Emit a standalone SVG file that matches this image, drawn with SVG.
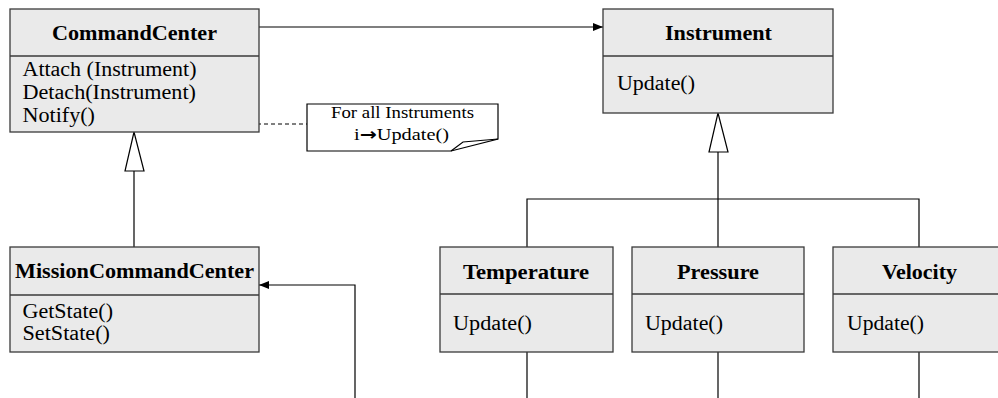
<svg xmlns="http://www.w3.org/2000/svg" width="998" height="398" viewBox="0 0 998 398">
  <style>
    .box { fill: #eaeaea; stroke: #3a3a3a; stroke-width: 1.3; }
    .div { stroke: #3a3a3a; stroke-width: 1.3; fill: none; }
    .title { font-family: "Liberation Serif", "Times New Roman", serif; font-weight: bold; font-size: 20.5px; fill: #000; }
    .op { font-family: "Liberation Serif", "Times New Roman", serif; font-size: 20.5px; fill: #000; }
    .note-text { font-family: "Liberation Serif", "Times New Roman", serif; font-size: 17px; fill: #000; }
    .wire { stroke: #000; stroke-width: 1.2; fill: none; }
    .dash { stroke: #000; stroke-width: 1; fill: none; stroke-dasharray: 4 3; }
    .tri { fill: #fff; stroke: #000; stroke-width: 1.2; }
  </style>
  <defs>
    <marker id="arrow" viewBox="0 0 10 8" refX="10" refY="4" markerWidth="10" markerHeight="8" markerUnits="userSpaceOnUse" orient="auto">
      <path d="M0,0 L10,4 L0,8 Z" fill="#000"/>
    </marker>
  </defs>
  <rect width="998" height="398" fill="#fff"/>

  <!-- connectors -->
  <g id="connectors">
    <line class="wire" x1="259" y1="27" x2="603" y2="27" marker-end="url(#arrow)"/>
    <polyline class="wire" points="355,398 355,285 259,285" marker-end="url(#arrow)"/>
    <line class="dash" x1="124" y1="124" x2="307" y2="124"/>
    <!-- CommandCenter generalization -->
    <line class="wire" x1="134" y1="171" x2="134" y2="247"/>
    <polygon class="tri" points="134,132 125,171 144,171"/>
    <!-- Instrument generalization -->
    <line class="wire" x1="718" y1="152" x2="718" y2="247"/>
    <polyline class="wire" points="527,247 527,199 919,199 919,247"/>
    <polygon class="tri" points="718,113 709,152 728,152"/>
    <!-- lines leaving the subclasses -->
    <line class="wire" x1="527" y1="352" x2="527" y2="398"/>
    <line class="wire" x1="718" y1="352" x2="718" y2="398"/>
    <line class="wire" x1="919" y1="352" x2="919" y2="398"/>
  </g>

  <g id="command-center">
    <rect class="box" x="10" y="9" width="249" height="123"/>
    <line class="div" x1="10" y1="56" x2="259" y2="56"/>
    <text class="title" x="52" y="40" textLength="165" lengthAdjust="spacingAndGlyphs">CommandCenter</text>
    <text class="op" x="22.5" y="76" textLength="174" lengthAdjust="spacingAndGlyphs">Attach (Instrument)</text>
    <text class="op" x="22.5" y="99" textLength="173.5" lengthAdjust="spacingAndGlyphs">Detach(Instrument)</text>
    <text class="op" x="22.5" y="122" textLength="72.5" lengthAdjust="spacingAndGlyphs">Notify()</text>
  </g>

  <g id="note">
    <path d="M307,104 H498 V139 L451,151 H307 Z" fill="#fff" stroke="#000" stroke-width="1.2"/>
    <path d="M451,151 L463,142 L498,139" fill="none" stroke="#000" stroke-width="1.2"/>
    <text class="note-text" x="331" y="118" textLength="143" lengthAdjust="spacingAndGlyphs">For all Instruments</text>
    <text class="note-text" x="354" y="140" textLength="95" lengthAdjust="spacingAndGlyphs">i<tspan font-family="DejaVu Sans, sans-serif" font-weight="bold">→</tspan>Update()</text>
  </g>

  <g id="instrument">
    <rect class="box" x="603" y="9" width="230" height="104"/>
    <line class="div" x1="603" y1="56" x2="833" y2="56"/>
    <text class="title" x="665" y="40" textLength="107" lengthAdjust="spacingAndGlyphs">Instrument</text>
    <text class="op" x="617" y="90" textLength="78" lengthAdjust="spacingAndGlyphs">Update()</text>
  </g>

  <g id="mission-command-center">
    <rect class="box" x="10" y="247" width="249" height="105"/>
    <line class="div" x1="10" y1="295" x2="259" y2="295"/>
    <text class="title" x="15" y="278" textLength="239" lengthAdjust="spacingAndGlyphs">MissionCommandCenter</text>
    <text class="op" x="22.5" y="318" textLength="90.5" lengthAdjust="spacingAndGlyphs">GetState()</text>
    <text class="op" x="22.5" y="340" textLength="87.5" lengthAdjust="spacingAndGlyphs">SetState()</text>
  </g>

  <g id="temperature">
    <rect class="box" x="440" y="247" width="173" height="105"/>
    <line class="div" x1="440" y1="294" x2="613" y2="294"/>
    <text class="title" x="463" y="279" textLength="126" lengthAdjust="spacingAndGlyphs">Temperature</text>
    <text class="op" x="453" y="330" textLength="79" lengthAdjust="spacingAndGlyphs">Update()</text>
  </g>

  <g id="pressure">
    <rect class="box" x="632" y="247" width="172" height="105"/>
    <line class="div" x1="632" y1="294" x2="804" y2="294"/>
    <text class="title" x="677" y="279" textLength="82" lengthAdjust="spacingAndGlyphs">Pressure</text>
    <text class="op" x="645" y="330" textLength="78" lengthAdjust="spacingAndGlyphs">Update()</text>
  </g>

  <g id="velocity">
    <rect class="box" x="833" y="247" width="173" height="105"/>
    <line class="div" x1="833" y1="294" x2="1006" y2="294"/>
    <text class="title" x="882" y="279" textLength="75" lengthAdjust="spacingAndGlyphs">Velocity</text>
    <text class="op" x="847" y="330" textLength="77" lengthAdjust="spacingAndGlyphs">Update()</text>
  </g>
</svg>
